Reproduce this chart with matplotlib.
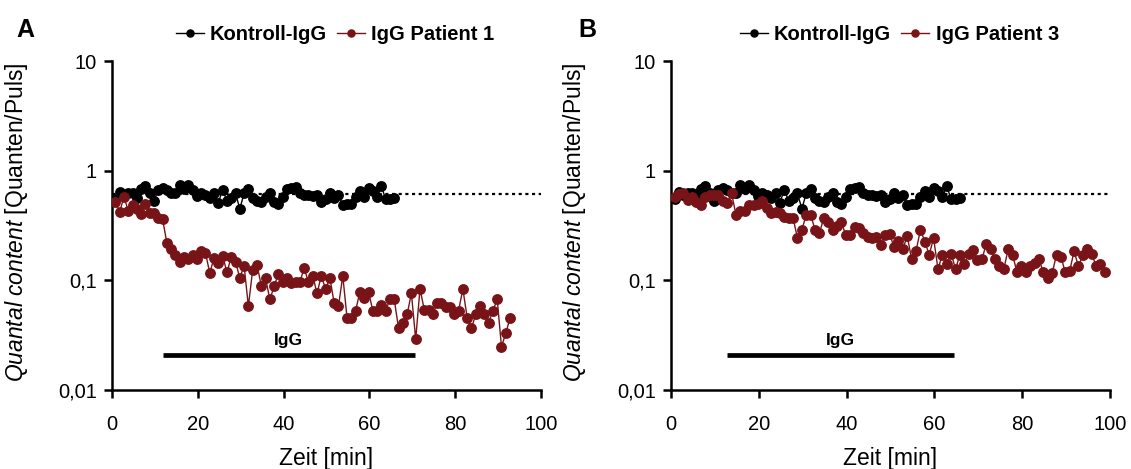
import numpy as np
import matplotlib
matplotlib.use("Agg")
import matplotlib.pyplot as plt
from matplotlib.ticker import NullLocator

plt.rcParams['font.family'] = 'Liberation Sans'
plt.rcParams['mathtext.fontset'] = 'custom'
plt.rcParams['mathtext.rm'] = 'Liberation Sans'
plt.rcParams['mathtext.it'] = 'Liberation Sans:italic'

# Quantal content (quanta per pulse), one value per minute starting at t0
t0 = 0.8
kontroll = [0.55, 0.64, 0.60, 0.63, 0.62, 0.56, 0.68, 0.72, 0.63, 0.53,
            0.67, 0.70, 0.66, 0.63, 0.62, 0.74, 0.68, 0.74, 0.67, 0.59,
            0.62, 0.60, 0.56, 0.63, 0.51, 0.67, 0.53, 0.56, 0.62, 0.45,
            0.62, 0.68, 0.56, 0.53, 0.52, 0.58, 0.63, 0.52, 0.50, 0.58,
            0.68, 0.69, 0.71, 0.63, 0.60, 0.60, 0.59, 0.60, 0.52, 0.55,
            0.62, 0.56, 0.60, 0.49, 0.50, 0.50, 0.58, 0.65, 0.58, 0.69,
            0.65, 0.57, 0.72, 0.55, 0.55, 0.56]
patient1 = [0.52, 0.42, 0.58, 0.43, 0.49, 0.45, 0.40, 0.50, 0.41, 0.41,
            0.37, 0.36, 0.22, 0.195, 0.17, 0.146, 0.163, 0.155, 0.17, 0.155,
            0.187, 0.177, 0.117, 0.16, 0.144, 0.168, 0.118, 0.163, 0.148, 0.105,
            0.136, 0.058, 0.125, 0.139, 0.0895, 0.105, 0.067, 0.088, 0.115, 0.096,
            0.105, 0.094, 0.096, 0.096, 0.13, 0.096, 0.11, 0.076, 0.11, 0.083,
            0.105, 0.062, 0.058, 0.11, 0.0455, 0.0455, 0.053, 0.079, 0.069, 0.079,
            0.053, 0.053, 0.059, 0.053, 0.067, 0.067, 0.0366, 0.041, 0.049, 0.076,
            0.029, 0.0835, 0.054, 0.054, 0.049, 0.062, 0.062, 0.057, 0.057, 0.049,
            0.053, 0.0835, 0.0455, 0.0366, 0.049, 0.058, 0.049, 0.041, 0.053, 0.067,
            0.0248, 0.033, 0.0455]
patient3 = [0.58, 0.61, 0.62, 0.54, 0.58, 0.52, 0.49, 0.58, 0.60, 0.60,
            0.60, 0.53, 0.505, 0.62, 0.395, 0.43, 0.43, 0.49, 0.49, 0.50,
            0.53, 0.455, 0.415, 0.42, 0.415, 0.38, 0.37, 0.37, 0.243, 0.29,
            0.395, 0.395, 0.29, 0.27, 0.37, 0.337, 0.29, 0.31, 0.337, 0.26,
            0.26, 0.306, 0.30, 0.27, 0.248, 0.243, 0.248, 0.21, 0.26, 0.265,
            0.20, 0.23, 0.193, 0.255, 0.155, 0.184, 0.29, 0.226, 0.171, 0.243,
            0.127, 0.171, 0.142, 0.175, 0.127, 0.171, 0.142, 0.175, 0.19, 0.152,
            0.155, 0.215, 0.193, 0.157, 0.134, 0.127, 0.193, 0.171, 0.118, 0.136,
            0.118, 0.136, 0.144, 0.157, 0.118, 0.105, 0.116, 0.171, 0.165, 0.118,
            0.122, 0.184, 0.134, 0.17, 0.195, 0.175, 0.136, 0.142, 0.118]
baseline = 0.61                 # mean control level
igg_a = (11.8, 70.6)            # IgG application window, panel A (min)
igg_b = (12.7, 64.5)            # IgG application window, panel B (min)

RED = '#781418'


def minutes(values):
    return t0 + np.arange(len(values))


def draw_panel(ax, patient, patient_label, igg_span):
    ax.hlines(baseline, 0, 100, colors='black', lw=1.6,
              linestyles=(0, (1.4, 1.6)), zorder=1)
    ax.plot(minutes(kontroll), kontroll, color='black', marker='o', ms=6.8,
            lw=1.0, label='Kontroll-IgG', zorder=3)
    ax.plot(minutes(patient), patient, color=RED, marker='o', ms=6.8,
            lw=1.0, label=patient_label, zorder=4)
    ax.hlines(0.0207, igg_span[0], igg_span[1], colors='black', lw=3.4)
    ax.text(sum(igg_span) / 2, 0.028, 'IgG', ha='center', va='center',
            fontsize=12.5, fontweight='bold')

    ax.set_yscale('log')
    ax.set_xlim(0, 100)
    ax.set_ylim(0.01, 10)
    ax.set_yticks([0.01, 0.1, 1, 10])
    ax.set_yticklabels(['0,01', '0,1', '1', '10'])
    ax.yaxis.set_minor_locator(NullLocator())
    ax.set_xticks(range(0, 101, 20))
    for side in ('top', 'right'):
        ax.spines[side].set_visible(False)
    for side in ('left', 'bottom'):
        ax.spines[side].set_linewidth(1.8)
    ax.tick_params(axis='both', direction='out', length=6, width=1.8,
                   labelsize=14.5)
    ax.tick_params(axis='x', pad=12)
    ax.tick_params(axis='y', pad=5)

    ax.set_xlabel('Zeit [min]', fontsize=16.5)
    ax.xaxis.set_label_coords(0.5, -0.172)
    ax.set_ylabel(r'$\mathit{Quantal\ content}$ [Quanten/Puls]', fontsize=16.5)
    ax.yaxis.set_label_coords(-0.19, 0.51)

    ax.legend(loc='center', bbox_to_anchor=(0.52, 1.08), ncol=2,
              frameon=False, handlelength=1.4, handletextpad=0.3,
              columnspacing=0.5, markerscale=0.75,
              prop={'weight': 'bold', 'size': 14.5})


fig = plt.figure(figsize=(11.31, 4.69), dpi=100)
ax_a = fig.add_axes([0.099, 0.1684, 0.3793, 0.7015])
ax_b = fig.add_axes([0.5933, 0.1684, 0.3882, 0.7015])

draw_panel(ax_a, patient1, 'IgG Patient 1', igg_a)
draw_panel(ax_b, patient3, 'IgG Patient 3', igg_b)

fig.text(16 / 1131, 1 - 30 / 469, 'A', fontsize=18, fontweight='bold',
         ha='left', va='center')
fig.text(578 / 1131, 1 - 30 / 469, 'B', fontsize=18, fontweight='bold',
         ha='left', va='center')

fig.savefig('out.png', dpi=100)
